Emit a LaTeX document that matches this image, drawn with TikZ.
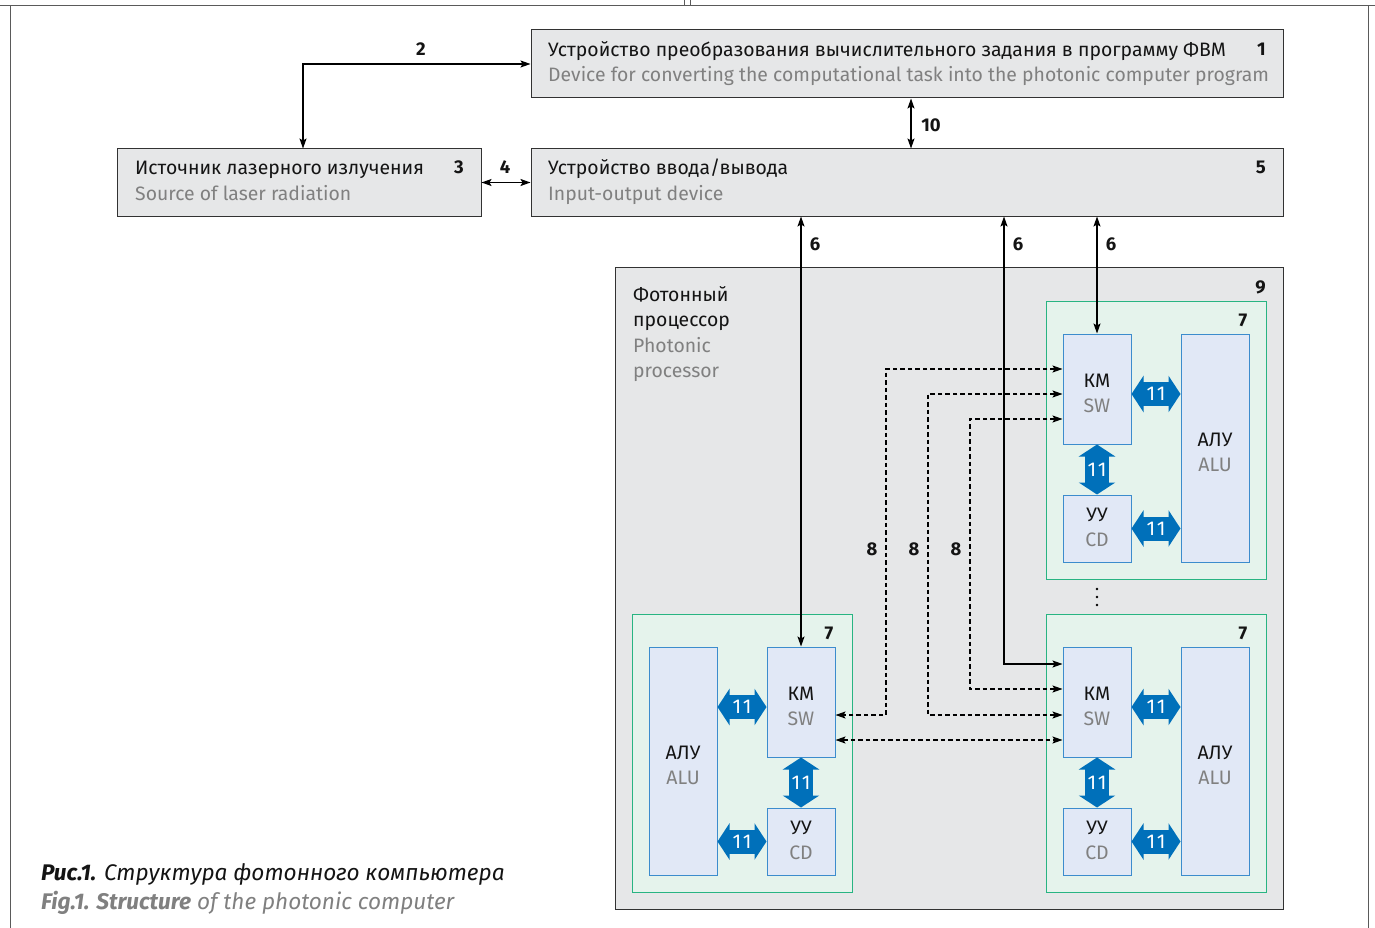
\documentclass[tikz,border=0pt]{standalone}
\usepackage{fontspec}
\setmainfont{Fira Sans}
\usetikzlibrary{arrows.meta,calc}
\definecolor{boxgray}{RGB}{230,231,232}
\definecolor{boxline}{RGB}{50,50,50}
\definecolor{txtgray}{RGB}{128,128,128}
\definecolor{greenline}{RGB}{40,180,130}
\definecolor{greenfill}{RGB}{229,243,236}
\definecolor{blueline}{RGB}{60,140,205}
\definecolor{bluefill}{RGB}{225,232,246}
\definecolor{arrblue}{RGB}{0,112,186}
\definecolor{framecol}{RGB}{90,90,90}
\definecolor{txtblack}{RGB}{20,20,20}
\tikzset{
  graybox/.style={draw=boxline, fill=boxgray, line width=1pt, inner sep=0pt},
  modbox/.style={draw=greenline, fill=greenfill, line width=1pt, inner sep=0pt, minimum width=220pt, minimum height=278pt},
  inbox/.style={draw=blueline, fill=bluefill, line width=1pt, inner sep=0pt, minimum width=68pt},
  inlab/.style={align=center, inner sep=0pt, text=txtblack, font=\fontsize{19.5}{25}\selectfont},
  txt/.style={anchor=base west, inner sep=0pt, text=txtblack, font=\fontsize{19.4}{25}\selectfont},
  gtxt/.style={txt, text=txtgray},
  num/.style={anchor=base, inner sep=0pt, text=txtblack, font=\bfseries\fontsize{18.5}{20}\selectfont},
  conn/.style={draw=black, line width=1.2pt, {Stealth[length=10pt,width=7pt,inset=2pt]}-{Stealth[length=10pt,width=7pt,inset=2pt]}},
  dconn/.style={conn, dash pattern=on 4.5pt off 3pt},
  barrow/.style={draw=arrblue, line width=24pt, {Triangle[length=12pt,width=36pt]}-{Triangle[length=12pt,width=36pt]}},
  blab/.style={text=white, inner sep=0pt, font=\fontsize{20}{20}\selectfont}
}
\newcommand\eleven{1\kern1.5pt1}
\begin{document}
\begin{tikzpicture}[x=1pt,y=-1pt]
\useasboundingbox (0,0) rectangle (1375,928);
\fill[white] (0,0) rectangle (1375,928);
% frame
\draw[framecol, line width=1pt] (0,6) -- (1375,6);
\draw[framecol, line width=1pt] (10,6) -- (10,928);
\draw[framecol, line width=1pt] (1368,6) -- (1368,928);
\draw[framecol, line width=0.8pt] (684,0) -- (684,6) (690,0) -- (690,6);

% main boxes
\node[graybox, minimum width=752pt, minimum height=68pt] (b1) at (907,64) {};
\node[graybox, minimum width=364pt, minimum height=67pt] (b3) at (299,182.5) {};
\node[graybox, minimum width=752pt, minimum height=67pt] (b5) at (907,182.5) {};
\node[graybox, minimum width=668pt, minimum height=642pt] (b9) at (949,588) {};

% texts of main boxes
\node[txt] (t1a) at (548,56.5) {Устройство преобразования вычислительного задания в программу ФВМ};
\node[gtxt] (t1b) at (548,81.5) {Device for converting the computational task into the photonic computer program};
\node[num, anchor=base east] (n1) at (1266,56) {1};
\node[txt] (t3a) at (135,174.5) {Источник лазерного излучения};
\node[gtxt] (t3b) at (135,200.5) {Source of laser radiation};
\node[num, anchor=base east] (n3) at (464,174) {3};
\node[txt] (t5a) at (548,174.5) {Устройство ввода/вывода};
\node[gtxt] (t5b) at (548,200.5) {Input-output device};
\node[num, anchor=base east] (n5) at (1266,174) {5};
\node[txt] (t9a) at (633,301) {Фотонный};
\node[txt] (t9b) at (633,326) {процессор};
\node[gtxt] (t9c) at (633,352) {Photonic};
\node[gtxt] (t9d) at (633,377) {processor};
\node[num, anchor=base east] (n9) at (1266,293) {9};

% modules
\node[modbox] (m1) at (1156,440) {};
\node[modbox] (m2) at (1156,753) {};
\node[modbox] (m3) at (742,753) {};
\node[num] (n7a) at (1243,326) {7};
\node[num] (n7b) at (1243,639) {7};
\node[num] (n7c) at (829,639) {7};

% inner boxes
\node[inbox, minimum height=110pt] (km1) at (1097,389) {};
\node[inbox, minimum height=67pt] (cd1) at (1097,528.5) {};
\node[inbox, minimum height=228pt] (alu1) at (1215,448) {};
\node[inbox, minimum height=110pt] (km2) at (1097,702) {};
\node[inbox, minimum height=67pt] (cd2) at (1097,841.5) {};
\node[inbox, minimum height=228pt] (alu2) at (1215,761) {};
\node[inbox, minimum height=110pt] (km3) at (801,702) {};
\node[inbox, minimum height=67pt] (cd3) at (801,841.5) {};
\node[inbox, minimum height=228pt] (alu3) at (683,761) {};
\foreach \k in {1,2,3}{
  \node[inlab] (lkm\k) at ([yshift=-4pt]km\k.center) {КМ\\\textcolor{txtgray}{SW}};
  \node[inlab] (lcd\k) at ([yshift=1pt]cd\k.center) {УУ\\\textcolor{txtgray}{CD}};
  \node[inlab] (lalu\k) at ([yshift=-4pt]alu\k.center) {АЛУ\\\textcolor{txtgray}{ALU}};
}

% blue arrows 11
\coordinate (y1) at (0,394);
\coordinate (y2) at (0,707);
\draw[barrow] (km1.east |- y1) -- node[blab] {\eleven} (alu1.west |- y1);
\draw[barrow] (cd1.east) -- node[blab] {\eleven} (alu1.west |- cd1.east);
\draw[barrow] (km1.south) -- node[blab] {\eleven} (cd1.north);
\draw[barrow] (km2.east |- y2) -- node[blab] {\eleven} (alu2.west |- y2);
\draw[barrow] (cd2.east) -- node[blab] {\eleven} (alu2.west |- cd2.east);
\draw[barrow] (km2.south) -- node[blab] {\eleven} (cd2.north);
\draw[barrow] (km3.west |- y2) -- node[blab] {\eleven} (alu3.east |- y2);
\draw[barrow] (cd3.west) -- node[blab] {\eleven} (alu3.east |- cd3.west);
\draw[barrow] (km3.south) -- node[blab] {\eleven} (cd3.north);

% connectors
\coordinate (p2) at (303,64);
\draw[conn] (b3.north -| p2) -- (p2) -- (b1.west |- p2);
\node[num] (n2) at (421,56) {2};
\draw[conn] (b3.east) -- (b5.west);
\node[num] (n4) at (505,174) {4};
\coordinate (p10) at (911,0);
\draw[conn] (b1.south -| p10) -- (b5.north -| p10);
\node[num] (n10) at (931,132) {10};
\draw[conn] (b5.south -| km3.north) -- (km3.north);
\node[num] (n6a) at (815,250) {6};
\coordinate (p6) at (1004,664);
\draw[conn] (b5.south -| p6) -- (p6) -- (km2.west |- p6);
\node[num] (n6b) at (1018,250) {6};
\draw[conn] (b5.south -| km1.north) -- (km1.north);
\node[num] (n6c) at (1111,250) {6};

% dashed 8
\coordinate (d1) at (886,369); \coordinate (d1b) at (886,715);
\coordinate (d2) at (928,394); \coordinate (d2b) at (928,715);
\coordinate (d3) at (970,419); \coordinate (d3b) at (970,689);
\coordinate (d4) at (950,740);
\draw[dconn] (km1.west |- d1) -- (d1) -- (d1b) -- (km3.east |- d1b);
\draw[dconn] (km1.west |- d2) -- (d2) -- (d2b) -- (km2.west |- d2b);
\draw[dconn] (km1.west |- d3) -- (d3) -- (d3b) -- (km2.west |- d3b);
\draw[dconn] (km3.east |- d4) -- (km2.west |- d4);
\node[num] (n8a) at (872,555) {8};
\node[num] (n8b) at (914,555) {8};
\node[num] (n8c) at (956,555) {8};

% dots
\fill[black] (1097,589) circle (1.4pt) (1097,597) circle (1.4pt) (1097,605) circle (1.4pt);

% caption
\node[anchor=base west, inner sep=0pt, text=txtblack, font=\itshape\fontsize{22.6}{29}\selectfont] (cap1) at (41,880) {\textbf{Рис.1.} Структура фотонного компьютера};
\node[anchor=base west, inner sep=0pt, text=txtgray, font=\itshape\fontsize{22.6}{29}\selectfont] (cap2) at (41,909) {\textbf{Fig.1. Structure} of the photonic computer};
\end{tikzpicture}
\end{document}
